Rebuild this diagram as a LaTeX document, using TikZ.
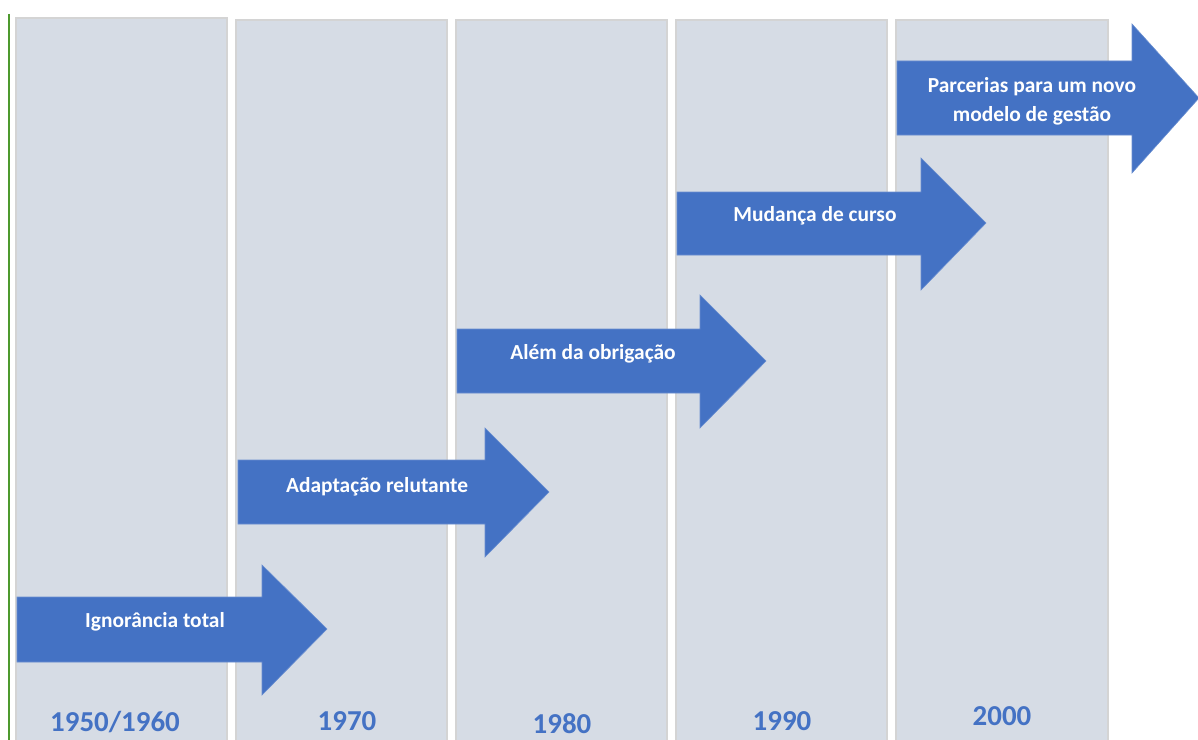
\documentclass[tikz,border=0pt]{standalone}
\usepackage{fontspec}
\setmainfont{Carlito}
\definecolor{colfill}{HTML}{D6DCE5}
\definecolor{colline}{HTML}{D4D4D4}
\definecolor{arrowblue}{HTML}{4472C4}
\definecolor{greenline}{HTML}{4E9A2E}
\begin{document}
\begin{tikzpicture}[x=1bp,y=-1bp,
  column/.style={fill=colfill,draw=colline,line width=2bp},
  bigarrow/.style={fill=arrowblue,draw=arrowblue!80!white,line width=0.6bp},
  label/.style={text=white,font=\bfseries\fontsize{21.5}{29}\selectfont,align=center,inner sep=0pt},
  year/.style={text=arrowblue,font=\bfseries\fontsize{29}{31}\selectfont,inner sep=0pt}]
\useasboundingbox[fill=white] (0,0) rectangle (1198,740);
% columns
\draw[column] (16,18) rectangle (227,745);
\draw[column] (236,20) rectangle (447,745);
\draw[column] (456,20) rectangle (667,745);
\draw[column] (676,20) rectangle (887,745);
\draw[column] (896,20) rectangle (1108,745);
% green line
\draw[greenline,line width=2.5bp] (9,14) -- (9,740);
% arrows
\draw[bigarrow] (17,597) -- (262,597) -- (262,565) -- (327,629) -- (262,695) -- (262,662) -- (17,662) -- cycle;
\draw[bigarrow] (238,460) -- (485,460) -- (485,428) -- (549,492) -- (485,557) -- (485,524) -- (238,524) -- cycle;
\draw[bigarrow] (457,329) -- (700,329) -- (700,295) -- (766,361) -- (700,428) -- (700,393) -- (457,393) -- cycle;
\draw[bigarrow] (677,192) -- (921,192) -- (921,158) -- (986,223) -- (921,290) -- (921,255) -- (677,255) -- cycle;
\draw[bigarrow] (897,61) -- (1132,61) -- (1132,24) -- (1199,98) -- (1132,173) -- (1132,135) -- (897,135) -- cycle;
% labels
\node[label] (l1) at (155,622) {Ignorância total};
\node[label] (l2) at (377,487) {Adaptação relutante};
\node[label] (l3) at (593,354) {Além da obrigação};
\node[label] (l4) at (815,216) {Mudança de curso};
\node[label] (l5) at (1032,101) {Parcerias para um novo\\modelo de gestão};
% years
\node[year] (y1) at (115,722) {1950/1960};
\node[year] (y2) at (347,721) {1970};
\node[year] (y3) at (562,724) {1980};
\node[year] (y4) at (782,721) {1990};
\node[year] (y5) at (1002,716) {2000};
\end{tikzpicture}
\end{document}
